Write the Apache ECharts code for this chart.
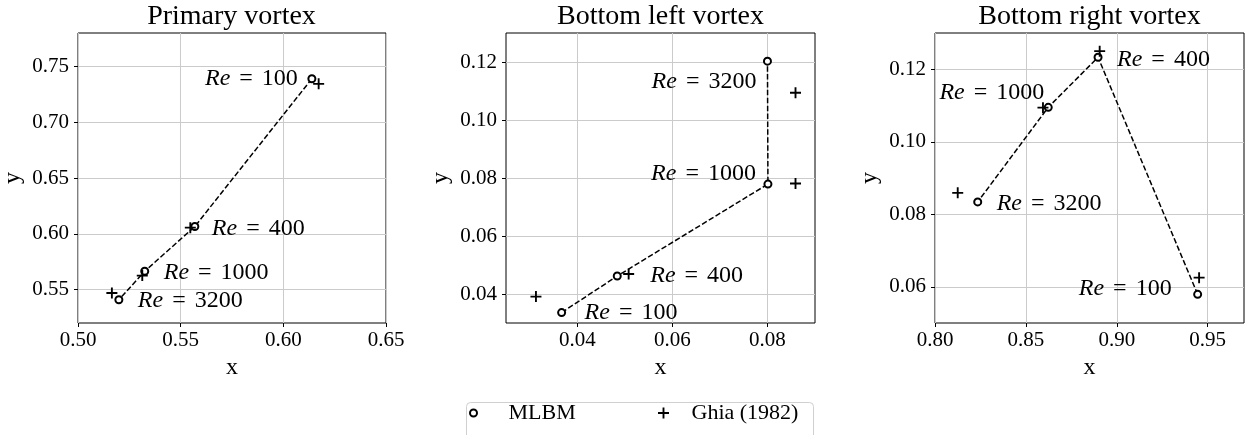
<!DOCTYPE html>
<html><head><meta charset="utf-8">
<script src="https://cdn.jsdelivr.net/npm/echarts@6/dist/echarts.min.js"></script>
<style>html,body{margin:0;padding:0;background:#fff}#c{width:1246px;height:435px}</style>
</head><body><div id="c"></div>
<script>
// ---- data ----
const reynolds = [100, 400, 1000, 3200];
const titles = ['Primary vortex', 'Bottom left vortex', 'Bottom right vortex'];
const mlbmPrimaryX = [0.6139, 0.5569, 0.5325, 0.5199];
const mlbmPrimaryY = [0.7390, 0.6065, 0.5664, 0.5408];
const ghiaPrimaryX = [0.6172, 0.5547, 0.5313, 0.5165];
const ghiaPrimaryY = [0.7344, 0.6055, 0.5625, 0.5469];
const mlbmBottomLeftX = [0.0367, 0.0484, 0.0801, 0.0800];
const mlbmBottomLeftY = [0.0336, 0.0462, 0.0779, 0.1203];
const ghiaBottomLeftX = [0.0313, 0.0508, 0.0859, 0.0859];
const ghiaBottomLeftY = [0.0391, 0.0469, 0.0781, 0.1094];
const mlbmBottomRightX = [0.9445, 0.8897, 0.8623, 0.8235];
const mlbmBottomRightY = [0.0579, 0.1233, 0.1095, 0.0834];
const ghiaBottomRightX = [0.9453, 0.8906, 0.8594, 0.8125];
const ghiaBottomRightY = [0.0625, 0.1250, 0.1094, 0.0859];
const xTicksPrimary = [0.50, 0.55, 0.60, 0.65];
const yTicksPrimary = [0.55, 0.60, 0.65, 0.70, 0.75];
const xTicksBottomLeft = [0.04, 0.06, 0.08];
const yTicksBottomLeft = [0.04, 0.06, 0.08, 0.10, 0.12];
const xTicksBottomRight = [0.80, 0.85, 0.90, 0.95];
const yTicksBottomRight = [0.06, 0.08, 0.10, 0.12];
const xRanges = [[0.50, 0.65], [0.025, 0.09], [0.80, 0.97]];
const yRanges = [[0.52, 0.78], [0.03, 0.13], [0.05, 0.13]];

// ---- layout (not data) ----
const FONT = "'Liberation Serif', 'DejaVu Serif', serif";
const gridLefts = [77, 506, 935];
const GRID_TOP = 33, GRID_W = 309, GRID_H = 290;
// label placement per point: [side, gap from marker centre, vertical shift]
const labelPlacement = [
  [['left', 13, 0], ['right', 16, 2], ['right', 18, 1], ['right', 18, 1]],
  [['right', 22, 0], ['right', 32, 0], ['left', 11, -10], ['left', 10, 21]],
  [['left', 25, -6], ['right', 18, 2], ['left', 3, -15], ['right', 18, 2]]
];
const CIRCLE = 7;
const PLUS = 'path://M4.15,0H5.85V4.15H10V5.85H5.85V10H4.15V5.85H0V4.15H4.15Z';

const panels = [
  {mx: mlbmPrimaryX, my: mlbmPrimaryY, gx: ghiaPrimaryX, gy: ghiaPrimaryY, xt: xTicksPrimary, yt: yTicksPrimary},
  {mx: mlbmBottomLeftX, my: mlbmBottomLeftY, gx: ghiaBottomLeftX, gy: ghiaBottomLeftY, xt: xTicksBottomLeft, yt: yTicksBottomLeft},
  {mx: mlbmBottomRightX, my: mlbmBottomRightY, gx: ghiaBottomRightX, gy: ghiaBottomRightY, xt: xTicksBottomRight, yt: yTicksBottomRight}
];

const grid = [], xAxis = [], yAxis = [], series = [], title = [];
const gridLineStyle = {color: '#cbcbcb', width: 1};
const tickStyle = {show: true, inside: false, length: 4, lineStyle: {color: '#000', width: 1}};

panels.forEach((p, i) => {
  grid.push({left: gridLefts[i], top: GRID_TOP, width: GRID_W, height: GRID_H,
    show: true, borderColor: '#000', borderWidth: 1, backgroundColor: 'transparent', containLabel: false});
  title.push({text: titles[i], left: gridLefts[i] + GRID_W / 2, top: 3, textAlign: 'center', padding: 0,
    textStyle: {fontFamily: FONT, fontSize: 28, fontWeight: 'normal', color: '#000'}});
  xAxis.push({type: 'value', gridIndex: i, min: xRanges[i][0], max: xRanges[i][1],
    name: 'x', nameLocation: 'middle', nameGap: 28,
    nameTextStyle: {fontFamily: FONT, fontSize: 24, color: '#000'},
    axisLine: {show: false}, axisTick: Object.assign({customValues: p.xt}, tickStyle),
    axisLabel: {customValues: p.xt, formatter: v => v.toFixed(2), margin: 7,
      fontFamily: FONT, fontSize: 21, color: '#000'},
    splitLine: {show: true, lineStyle: gridLineStyle}});
  yAxis.push({type: 'value', gridIndex: i, min: yRanges[i][0], max: yRanges[i][1],
    name: 'y', nameLocation: 'middle', nameGap: 53, nameRotate: 90,
    nameTextStyle: {fontFamily: FONT, fontSize: 24, color: '#000'},
    axisLine: {show: false}, axisTick: Object.assign({customValues: p.yt}, tickStyle),
    axisLabel: {customValues: p.yt, formatter: v => v.toFixed(2), margin: 9,
      fontFamily: FONT, fontSize: 21, color: '#000'},
    splitLine: {show: true, lineStyle: gridLineStyle}});

  const mlbmPts = p.mx.map((x, k) => [x, p.my[k]]);
  const ghiaPts = p.gx.map((x, k) => [x, p.gy[k]]);

  series.push({type: 'line', name: 'MLBM path', xAxisIndex: i, yAxisIndex: i, data: mlbmPts,
    symbol: 'none', silent: true, z: 2,
    lineStyle: {color: '#000', width: 1.5, type: [5.5, 2.4], opacity: 1}});

  series.push({type: 'scatter', name: 'MLBM', xAxisIndex: i, yAxisIndex: i, z: 3,
    symbol: 'emptyCircle', symbolSize: CIRCLE,
    itemStyle: {color: '#000', borderColor: '#000', borderWidth: 1, opacity: 1},
    data: mlbmPts.map((pt, k) => {
      const [side, gap, dy] = labelPlacement[i][k];
      return {value: pt, label: {show: true, position: side, distance: gap - CIRCLE / 2, offset: [0, dy],
        formatter: '{i|Re}{e|=}{n|' + reynolds[k] + '}',
        fontFamily: FONT, fontSize: 24, color: '#000', opacity: 1,
        rich: {i: {fontFamily: FONT, fontSize: 24, fontStyle: 'italic', color: '#000'},
               e: {fontFamily: FONT, fontSize: 24, color: '#000', padding: [0, 9]},
               n: {fontFamily: FONT, fontSize: 24, color: '#000'}}}};
    })});

  series.push({type: 'scatter', name: 'Ghia (1982)', xAxisIndex: i, yAxisIndex: i, z: 4,
    symbol: PLUS, symbolSize: 11,
    itemStyle: {color: '#000', opacity: 1}, data: ghiaPts});
});

const legendText = {fontFamily: FONT, fontSize: 22, color: '#000'};
const chart = echarts.init(document.getElementById('c'), null, {renderer: 'canvas'});
chart.setOption({
  animation: false,
  backgroundColor: '#fff',
  title, grid, xAxis, yAxis, series,
  legend: [
    {data: ['MLBM'], left: 469, top: 402, padding: 0, itemWidth: 14, itemHeight: 7,
     textStyle: Object.assign({padding: [0, 0, 0, 23]}, legendText), selectedMode: false},
    {data: ['Ghia (1982)'], left: 658, top: 402, padding: 0, itemWidth: 14, itemHeight: 11,
     textStyle: Object.assign({padding: [0, 0, 0, 16]}, legendText), selectedMode: false}
  ],
  graphic: [{type: 'rect', shape: {x: 466.5, y: 402.5, width: 347, height: 50, r: 4},
    style: {fill: 'none', stroke: '#d0d0d0', lineWidth: 1}, silent: true, z: -1}]
});
</script></body></html>
